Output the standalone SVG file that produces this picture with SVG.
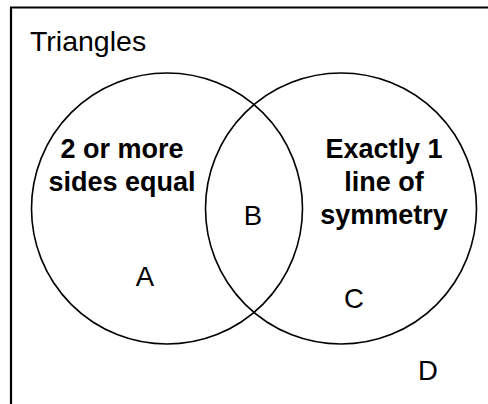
<svg xmlns="http://www.w3.org/2000/svg" width="488" height="404" viewBox="0 0 488 404">
<style>
.frame{fill:none;stroke:#000;stroke-width:2.2}
.set{fill:none;stroke:#000;stroke-width:1.6}
.title{font-family:"Liberation Sans",Arial,sans-serif;font-size:28.5px;fill:#000}
.head{font-family:"Liberation Sans",Arial,sans-serif;font-size:27px;font-weight:bold;fill:#000;text-anchor:middle}
.reg{font-family:"Liberation Sans",Arial,sans-serif;font-size:27.5px;fill:#000;text-anchor:middle}
</style>
<rect width="488" height="404" fill="#fff"/>
<g id="universe">
<path class="frame" d="M11,404 V7.5 H488"/>
<text class="title" x="30" y="51">Triangles</text>
<text class="reg" x="428" y="380">D</text>
</g>
<g id="set-equal-sides">
<circle class="set" cx="167" cy="208.5" r="135.5"/>
<text class="head" x="122" y="157.5">2 or more</text>
<text class="head" x="122" y="190.5">sides equal</text>
<text class="reg" x="145" y="286">A</text>
</g>
<g id="set-symmetry">
<circle class="set" cx="341" cy="208.5" r="135.5"/>
<text class="head" x="384" y="157.5">Exactly 1</text>
<text class="head" x="384" y="190.5">line of</text>
<text class="head" x="384" y="223.5">symmetry</text>
<text class="reg" x="354" y="308">C</text>
</g>
<g id="intersection">
<text class="reg" x="253" y="225">B</text>
</g>
</svg>
